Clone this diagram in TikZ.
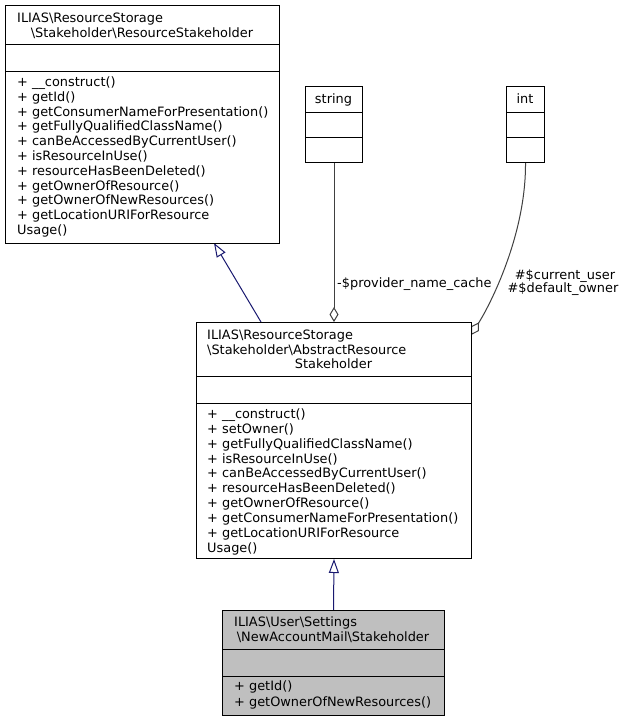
\documentclass[tikz,border=0pt]{standalone}
\usepackage{fontspec}
\setmainfont{DejaVu Sans}
\usetikzlibrary{arrows.meta}
\pgfdeclarelayer{bg}
\pgfsetlayers{bg,main}
\definecolor{inhblue}{HTML}{191970}
\definecolor{usegray}{HTML}{404040}
\definecolor{mainfill}{HTML}{BFBFBF}
\begin{document}
\begin{tikzpicture}[x=1pt,y=-1pt,
  box/.style={draw=black, line width=1pt, fill=white, rectangle, inner sep=0pt, anchor=north west},
  sepline/.style={draw=black, line width=1pt},
  txt/.style={anchor=base west, inner sep=0pt, font=\fontsize{12.9}{14}\selectfont},
  ctxt/.style={anchor=base, inner sep=0pt, font=\fontsize{12.9}{14}\selectfont},
  inh/.style={draw=inhblue, line width=1pt, -{Triangle[open, length=14pt, width=10pt]}},
  use/.style={draw=usegray, line width=1pt, -{Diamond[open, length=15pt, width=9pt]}}
]
\useasboundingbox (0,0) rectangle (625,721);
\begin{pgfonlayer}{bg}
\fill[white] (0,0) rectangle (625,721);
\end{pgfonlayer}

% ---- top class: ResourceStakeholder
\node[box, minimum width=274pt, minimum height=238pt] (A) at (5,5) {};
\draw[sepline] (5,44) -- (279,44);
\draw[sepline] (5,71) -- (279,71);
\node[txt] (Ah1) at (17,22.5) {ILIAS\textbackslash ResourceStorage};
\node[ctxt] (Ah2) at (142,37.5) {\textbackslash Stakeholder\textbackslash ResourceStakeholder};
\foreach \t [count=\i from 0] in {+ \_\_construct(), + getId(), + getConsumerNameForPresentation(), + getFullyQualifiedClassName(), + canBeAccessedByCurrentUser(), + isResourceInUse(), + resourceHasBeenDeleted(), + getOwnerOfResource(), + getOwnerOfNewResources(), + getLocationURIForResource, Usage()}
  \node[txt] (Am\i) at (17,{86.5+14.8*\i}) {\t};

% ---- string
\node[box, minimum width=57pt, minimum height=76pt] (S) at (305,86) {};
\draw[sepline] (305,112) -- (362,112);
\draw[sepline] (305,137) -- (362,137);
\node[ctxt] (St) at (333.5,103.5) {string};

% ---- int
\node[box, minimum width=38pt, minimum height=76pt] (I) at (506,86) {};
\draw[sepline] (506,112) -- (544,112);
\draw[sepline] (506,137) -- (544,137);
\node[ctxt] (It) at (525,103.5) {int};

% ---- middle class: AbstractResourceStakeholder
\node[box, minimum width=275pt, minimum height=236pt] (B) at (196,322) {};
\draw[sepline] (196,376) -- (471,376);
\draw[sepline] (196,403) -- (471,403);
\node[txt] (Bh1) at (207,339.5) {ILIAS\textbackslash ResourceStorage};
\node[txt] (Bh2) at (207,354) {\textbackslash Stakeholder\textbackslash AbstractResource};
\node[ctxt] (Bh3) at (333.5,368.5) {Stakeholder};
\foreach \t [count=\i from 0] in {+ \_\_construct(), + setOwner(), + getFullyQualifiedClassName(), + isResourceInUse(), + canBeAccessedByCurrentUser(), + resourceHasBeenDeleted(), + getOwnerOfResource(), + getConsumerNameForPresentation(), + getLocationURIForResource, Usage()}
  \node[txt] (Bm\i) at (207,{418.5+14.85*\i}) {\t};

% ---- bottom class: NewAccountMail Stakeholder
\node[box, fill=mainfill, minimum width=222pt, minimum height=105pt] (C) at (222,610) {};
\draw[sepline] (222,649) -- (444,649);
\draw[sepline] (222,676) -- (444,676);
\node[txt] (Ch1) at (234,626.5) {ILIAS\textbackslash User\textbackslash Settings};
\node[ctxt] (Ch2) at (333,641.5) {\textbackslash NewAccountMail\textbackslash Stakeholder};
\node[txt] (Cm0) at (234,690.5) {+ getId()};
\node[txt] (Cm1) at (234,706.5) {+ getOwnerOfNewResources()};

% ---- connector points
\coordinate (Ain) at (214,243);
\coordinate (Bout) at (261,322);
\coordinate (Ic1) at (526,235);
\coordinate (Ic2) at (490,305);
\coordinate (Iend) at (471,335);

% ---- connectors
\begin{pgfonlayer}{bg}
\draw[inh] (Bout) -- (Ain);
\draw[inh] (C.north) -- (B.south);
\draw[use] (S.south) -- (S.south |- B.north);
\draw[use] (I.south) .. controls (Ic1) and (Ic2) .. (Iend);
\end{pgfonlayer}

% ---- edge labels
\node[txt] (Lp) at (337,287.5) {-\$provider\_name\_cache};
\node[ctxt] (Lc) at (565,279.5) {\#\$current\_user};
\node[ctxt] (Ld) at (563,292.5) {\#\$default\_owner};
\end{tikzpicture}
\end{document}
